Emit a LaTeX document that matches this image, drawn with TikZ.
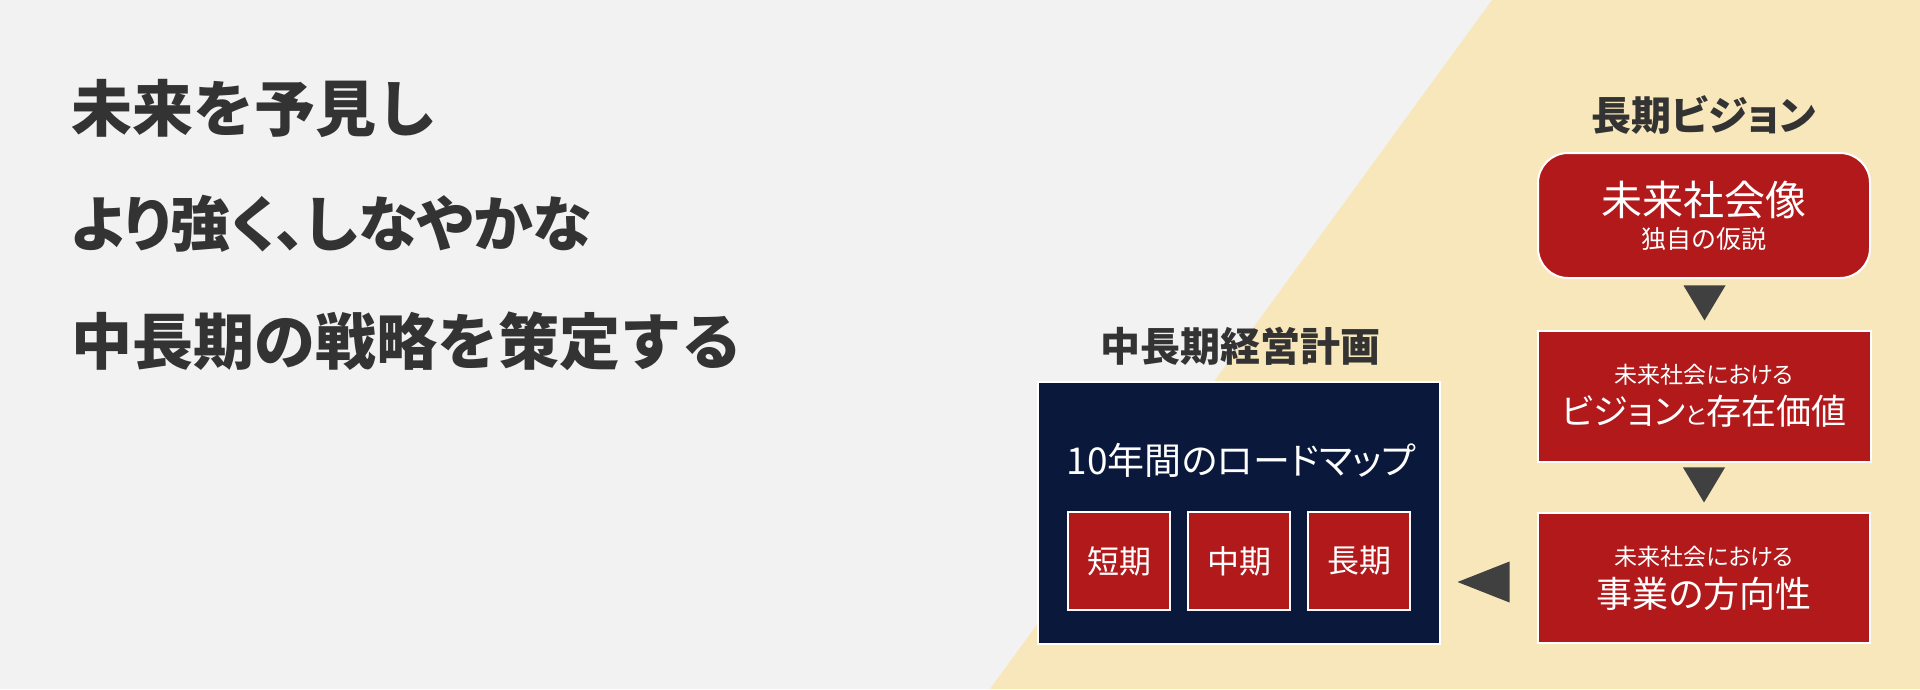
\documentclass[tikz,border=0pt]{standalone}
\usepackage{fontspec}
\setmainfont{Noto Sans CJK JP}[RawFeature=+palt]
\newfontfamily\fullw{Noto Sans CJK JP}
\usetikzlibrary{shapes.geometric,calc}
\definecolor{bggray}{RGB}{242,242,242}
\definecolor{beige}{RGB}{249,231,188}
\definecolor{boxred}{RGB}{177,25,27}
\definecolor{navy}{RGB}{10,25,59}
\definecolor{darktext}{RGB}{51,51,51}
\definecolor{tricol}{RGB}{64,64,64}
\newcommand{\fs}[1]{\fontsize{#1}{#1}\selectfont}
\tikzset{
  redbox/.style={draw=white,line width=2pt,fill=boxred,inner sep=0pt},
  txt/.style={inner sep=0pt,text=white},
  head/.style={inner sep=0pt,text=darktext,font=\bfseries\fs{40}},
  lead/.style={inner sep=0pt,anchor=west,text=darktext,font=\bfseries\fs{60}},
  downtri/.style={isosceles triangle,isosceles triangle stretches,shape border rotate=-90,
    fill=tricol,inner sep=0pt,minimum width=42pt,minimum height=35pt,anchor=apex},
  lefttri/.style={isosceles triangle,isosceles triangle stretches,shape border rotate=180,
    fill=tricol,inner sep=0pt,minimum width=41pt,minimum height=52pt,anchor=apex}
}
\begin{document}
\begin{tikzpicture}[x=1pt,y=-1pt]
\useasboundingbox (0,0) rectangle (1920,689);
\fill[bggray] (0,0) rectangle (1920,689);
\fill[beige] (1492,0) -- (1920,0) -- (1920,689) -- (990,689) -- cycle;

% left lead text
\node[lead,font=\fullw\bfseries\fs{61}] (l1) at (71,108) {未来を予見し};
\node[lead] (l2) at (71,224) {より強く、しなやかな};
\node[lead,font=\fullw\bfseries\fs{61}] (l3) at (71,341) {中長期の戦略を策定する};

% long-term vision column
\node[head] (hv) at (1704,115) {長期ビジョン};
\node[redbox,rounded corners=30pt,minimum width=332pt,minimum height=125pt] (v1) at (1704,215.5) {};
\node[txt,font=\fs{41}] (v1a) at (1704,200) {未来社会像};
\node[txt,font=\fs{25}] (v1b) at (1704,239) {独自の仮説};

\node[redbox,minimum width=333pt,minimum height=131pt] (v2) at (1704.5,396.5) {};
\node[txt,font=\fs{23}] (v2a) at (1704,375) {未来社会における};
\node[txt,font=\fs{35}] (v2b) at (1704,411) {ビジョン{\fs{24}と}存在価値};

\node[redbox,minimum width=332pt,minimum height=130pt] (v3) at (1704,578) {};
\node[txt,font=\fs{23}] (v3a) at (1704,557) {未来社会における};
\node[txt,font=\fs{36}] (v3b) at (1704,594) {事業の方向性};

\node[downtri] (t1) at ($(v2.north)+(0,-9)$) {};
\node[downtri] (t2) at ($(v3.north)+(0,-9)$) {};

% mid-term plan
\node[head] (hp) at (1240,346) {中長期経営計画};
\node[draw=white,line width=2pt,fill=navy,inner sep=0pt,minimum width=402pt,minimum height=262pt] (p) at (1239,513) {};
\node[txt,font=\fs{37}] (pt) at (1241,460) {10年間のロードマップ};
\node[redbox,minimum width=102pt,minimum height=98pt] (s1) at (1119,561) {};
\node[redbox,minimum width=102pt,minimum height=98pt] (s2) at (1239,561) {};
\node[redbox,minimum width=102pt,minimum height=98pt] (s3) at (1359,561) {};
\node[txt,font=\fs{32}] at (s1) {短期};
\node[txt,font=\fs{32}] at (s2) {中期};
\node[txt,font=\fs{32}] at (s3) {長期};

\node[lefttri] (t3) at ($(v3.west)+(-80,4)$) {};
\end{tikzpicture}
\end{document}
